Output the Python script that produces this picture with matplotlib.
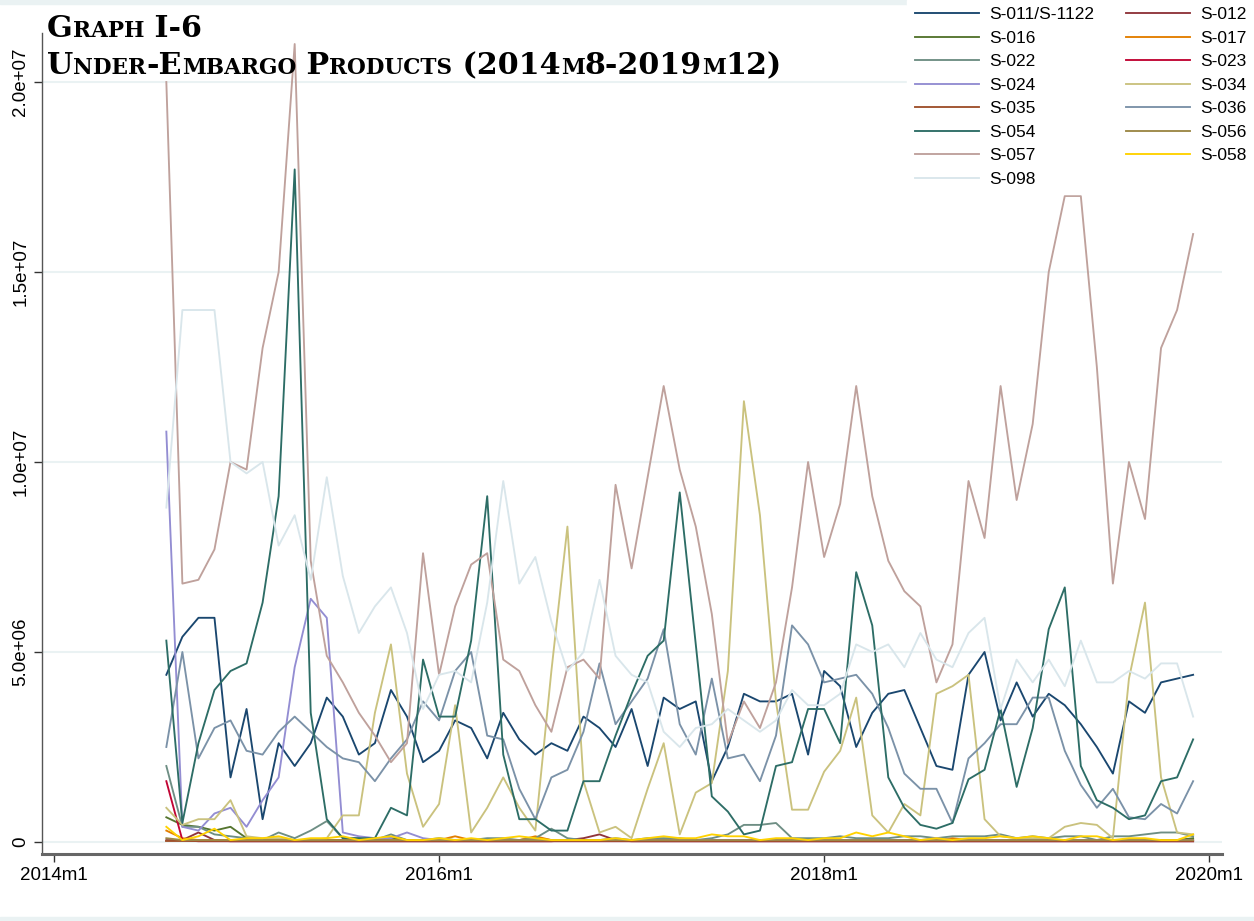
import numpy as np
import matplotlib
matplotlib.use("Agg")
import matplotlib.pyplot as plt
from matplotlib.patches import Rectangle

plt.rcParams['font.family'] = ['Liberation Sans', 'DejaVu Sans']

# monthly data 2014m8 .. 2019m12, values in millions
start_month = 7          # months after 2014m1
n_months = 65

s011 = [4.4, 5.4, 5.9, 5.9, 1.7, 3.5, 0.6, 2.6, 2.0, 2.6, 3.8, 3.3, 2.3, 2.6, 4.0, 3.3, 2.1, 2.4, 3.2, 3.0,
        2.2, 3.4, 2.7, 2.3, 2.6, 2.4, 3.3, 3.0, 2.5, 3.5, 2.0, 3.8, 3.5, 3.7, 1.6, 2.5, 3.9, 3.7, 3.7, 3.9,
        2.3, 4.5, 4.1, 2.5, 3.4, 3.9, 4.0, 3.0, 2.0, 1.9, 4.4, 5.0, 3.2, 4.2, 3.3, 3.9, 3.6, 3.1, 2.5, 1.8,
        3.7, 3.4, 4.2, 4.3, 4.4]
s012 = [0.05, 0.05, 0.25, 0.05, 0.02, 0.02, 0.02, 0.02, 0.02, 0.02, 0.02, 0.02, 0.02, 0.02, 0.02, 0.02, 0.02, 0.02, 0.02, 0.02,
        0.02, 0.02, 0.02, 0.02, 0.02, 0.05, 0.1, 0.2, 0.05, 0.02, 0.02, 0.02, 0.02, 0.02, 0.02, 0.02, 0.02, 0.02, 0.02, 0.02,
        0.02, 0.02, 0.02, 0.02, 0.02, 0.02, 0.02, 0.02, 0.02, 0.02, 0.02, 0.02, 0.02, 0.02, 0.02, 0.02, 0.02, 0.02, 0.02, 0.02,
        0.02, 0.02, 0.02, 0.02, 0.02]
s016 = [0.65, 0.45, 0.4, 0.3, 0.4, 0.1, 0.05, 0.05, 0.05, 0.05, 0.05, 0.05, 0.05, 0.05, 0.1, 0.05, 0.05, 0.05, 0.05, 0.05,
        0.05, 0.05, 0.05, 0.1, 0.05, 0.05, 0.05, 0.05, 0.05, 0.05, 0.05, 0.05, 0.05, 0.05, 0.05, 0.05, 0.05, 0.05, 0.05, 0.05,
        0.05, 0.05, 0.05, 0.05, 0.05, 0.05, 0.05, 0.05, 0.05, 0.05, 0.05, 0.05, 0.05, 0.05, 0.05, 0.05, 0.05, 0.05, 0.05, 0.05,
        0.05, 0.05, 0.05, 0.05, 0.1]
s017 = [0.3, 0.1, 0.05, 0.05, 0.05, 0.05, 0.05, 0.05, 0.05, 0.05, 0.05, 0.05, 0.05, 0.05, 0.05, 0.05, 0.05, 0.05, 0.15, 0.05,
        0.05, 0.05, 0.05, 0.15, 0.05, 0.05, 0.05, 0.05, 0.05, 0.05, 0.05, 0.05, 0.05, 0.05, 0.05, 0.05, 0.05, 0.05, 0.05, 0.05,
        0.05, 0.05, 0.05, 0.05, 0.05, 0.05, 0.05, 0.05, 0.05, 0.1, 0.05, 0.05, 0.05, 0.05, 0.05, 0.05, 0.05, 0.05, 0.05, 0.05,
        0.05, 0.05, 0.05, 0.05, 0.05]
s022 = [2.0, 0.4, 0.4, 0.2, 0.15, 0.1, 0.05, 0.25, 0.1, 0.3, 0.55, 0.1, 0.1, 0.05, 0.2, 0.05, 0.05, 0.1, 0.05, 0.05,
        0.1, 0.1, 0.05, 0.1, 0.35, 0.1, 0.05, 0.05, 0.1, 0.05, 0.1, 0.1, 0.1, 0.05, 0.1, 0.2, 0.45, 0.45, 0.5, 0.1,
        0.1, 0.1, 0.15, 0.1, 0.1, 0.1, 0.15, 0.15, 0.1, 0.15, 0.15, 0.15, 0.2, 0.1, 0.15, 0.1, 0.15, 0.15, 0.05, 0.15,
        0.15, 0.2, 0.25, 0.25, 0.15]
s023 = [1.6, 0.05, 0.02, 0.02, 0.02, 0.02, 0.02, 0.02, 0.02, 0.02, 0.02, 0.02, 0.02, 0.02, 0.02, 0.02, 0.02, 0.02, 0.02, 0.02,
        0.02, 0.02, 0.02, 0.02, 0.02, 0.02, 0.02, 0.02, 0.02, 0.02, 0.02, 0.02, 0.02, 0.02, 0.02, 0.02, 0.02, 0.02, 0.02, 0.02,
        0.02, 0.02, 0.02, 0.02, 0.02, 0.02, 0.02, 0.02, 0.02, 0.02, 0.02, 0.02, 0.02, 0.02, 0.02, 0.02, 0.02, 0.02, 0.02, 0.02,
        0.02, 0.02, 0.02, 0.02, 0.02]
s024 = [10.8, 0.4, 0.3, 0.75, 0.9, 0.4, 1.1, 1.7, 4.6, 6.4, 5.9, 0.25, 0.15, 0.1, 0.1, 0.25, 0.1, 0.05, 0.05, 0.05,
        0.05, 0.05, 0.05, 0.05, 0.05, 0.05, 0.05, 0.05, 0.05, 0.05, 0.05, 0.05, 0.05, 0.05, 0.05, 0.05, 0.05, 0.05, 0.05, 0.05,
        0.05, 0.05, 0.05, 0.05, 0.05, 0.05, 0.05, 0.05, 0.1, 0.05, 0.05, 0.05, 0.05, 0.05, 0.05, 0.05, 0.05, 0.05, 0.05, 0.05,
        0.05, 0.05, 0.05, 0.05, 0.05]
s034 = [0.9, 0.45, 0.6, 0.6, 1.1, 0.15, 0.1, 0.1, 0.05, 0.05, 0.1, 0.7, 0.7, 3.4, 5.2, 1.8, 0.4, 1.0, 3.6, 0.25,
        0.9, 1.7, 0.9, 0.3, 4.5, 8.3, 1.6, 0.25, 0.4, 0.1, 1.4, 2.6, 0.2, 1.3, 1.55, 4.5, 11.6, 8.6, 3.7, 0.85,
        0.85, 1.85, 2.4, 3.8, 0.7, 0.25, 1.0, 0.7, 3.9, 4.1, 4.4, 0.6, 0.15, 0.1, 0.1, 0.1, 0.4, 0.5, 0.45, 0.1,
        4.3, 6.3, 1.7, 0.25, 0.2]
s035 = [0.03, 0.03, 0.03, 0.03, 0.03, 0.03, 0.03, 0.03, 0.03, 0.03, 0.03, 0.03, 0.03, 0.03, 0.03, 0.03, 0.03, 0.03, 0.03, 0.03,
        0.03, 0.03, 0.03, 0.03, 0.03, 0.03, 0.03, 0.03, 0.03, 0.03, 0.03, 0.03, 0.03, 0.03, 0.03, 0.03, 0.03, 0.03, 0.03, 0.03,
        0.03, 0.03, 0.03, 0.03, 0.03, 0.03, 0.03, 0.03, 0.03, 0.03, 0.03, 0.03, 0.03, 0.03, 0.03, 0.03, 0.03, 0.03, 0.03, 0.03,
        0.03, 0.03, 0.03, 0.03, 0.03]
s036 = [2.5, 5.0, 2.2, 3.0, 3.2, 2.4, 2.3, 2.9, 3.3, 2.9, 2.5, 2.2, 2.1, 1.6, 2.2, 2.7, 3.7, 3.2, 4.5, 5.0,
        2.8, 2.7, 1.4, 0.6, 1.7, 1.9, 2.9, 4.7, 3.1, 3.7, 4.3, 5.6, 3.1, 2.3, 4.3, 2.2, 2.3, 1.6, 2.8, 5.7,
        5.2, 4.2, 4.3, 4.4, 3.9, 3.0, 1.8, 1.4, 1.4, 0.5, 2.2, 2.6, 3.1, 3.1, 3.8, 3.8, 2.4, 1.5, 0.9, 1.4,
        0.65, 0.6, 1.0, 0.75, 1.6]
s054 = [5.3, 0.5, 2.6, 4.0, 4.5, 4.7, 6.3, 9.1, 17.7, 3.4, 0.6, 0.1, 0.1, 0.1, 0.9, 0.7, 4.8, 3.3, 3.3, 5.3,
        9.1, 2.3, 0.6, 0.6, 0.3, 0.3, 1.6, 1.6, 2.8, 3.9, 4.9, 5.3, 9.2, 5.2, 1.2, 0.8, 0.2, 0.3, 2.0, 2.1,
        3.5, 3.5, 2.6, 7.1, 5.7, 1.7, 0.9, 0.45, 0.35, 0.5, 1.65, 1.9, 3.5, 1.45, 3.0, 5.6, 6.7, 2.0, 1.1, 0.9,
        0.6, 0.7, 1.6, 1.7, 2.7]
s056 = [0.1, 0.05, 0.05, 0.05, 0.05, 0.05, 0.05, 0.05, 0.05, 0.05, 0.05, 0.05, 0.05, 0.05, 0.05, 0.05, 0.05, 0.05, 0.05, 0.05,
        0.05, 0.05, 0.05, 0.05, 0.05, 0.05, 0.05, 0.05, 0.05, 0.05, 0.05, 0.05, 0.05, 0.05, 0.05, 0.05, 0.05, 0.05, 0.05, 0.05,
        0.05, 0.05, 0.05, 0.05, 0.05, 0.05, 0.05, 0.05, 0.05, 0.05, 0.05, 0.05, 0.05, 0.05, 0.05, 0.05, 0.05, 0.05, 0.05, 0.05,
        0.05, 0.05, 0.05, 0.05, 0.05]
s057 = [20.0, 6.8, 6.9, 7.7, 10.0, 9.8, 13.0, 15.0, 21.0, 7.4, 4.9, 4.2, 3.4, 2.8, 2.1, 2.6, 7.6, 4.4, 6.2, 7.3,
        7.6, 4.8, 4.5, 3.6, 2.9, 4.6, 4.8, 4.3, 9.4, 7.2, 9.6, 12.0, 9.8, 8.3, 6.0, 2.6, 3.7, 3.0, 4.2, 6.7,
        10.0, 7.5, 8.9, 12.0, 9.1, 7.4, 6.6, 6.2, 4.2, 5.2, 9.5, 8.0, 12.0, 9.0, 11.0, 15.0, 17.0, 17.0, 12.5, 6.8,
        10.0, 8.5, 13.0, 14.0, 16.0]
s058 = [0.4, 0.05, 0.15, 0.35, 0.05, 0.1, 0.1, 0.15, 0.05, 0.1, 0.1, 0.15, 0.05, 0.1, 0.15, 0.05, 0.05, 0.1, 0.05, 0.1,
        0.05, 0.1, 0.15, 0.1, 0.05, 0.05, 0.05, 0.05, 0.1, 0.05, 0.1, 0.15, 0.1, 0.1, 0.2, 0.15, 0.15, 0.05, 0.1, 0.1,
        0.05, 0.1, 0.1, 0.25, 0.15, 0.25, 0.15, 0.05, 0.1, 0.05, 0.1, 0.1, 0.15, 0.1, 0.15, 0.1, 0.05, 0.15, 0.15, 0.05,
        0.1, 0.1, 0.05, 0.05, 0.2]
s098 = [8.8, 14.0, 14.0, 14.0, 10.0, 9.7, 10.0, 7.8, 8.6, 6.9, 9.6, 7.0, 5.5, 6.2, 6.7, 5.5, 3.5, 4.4, 4.5, 4.2,
        6.3, 9.5, 6.8, 7.5, 5.8, 4.5, 5.0, 6.9, 4.9, 4.4, 4.2, 2.9, 2.5, 3.0, 3.1, 3.5, 3.2, 2.9, 3.2, 4.0,
        3.6, 3.6, 3.9, 5.2, 5.0, 5.2, 4.6, 5.5, 4.8, 4.6, 5.5, 5.9, 3.5, 4.8, 4.2, 4.8, 4.1, 5.3, 4.2, 4.2,
        4.5, 4.3, 4.7, 4.7, 3.3]

labels = ['S-011/S-1122', 'S-012', 'S-016', 'S-017', 'S-022', 'S-023', 'S-024', 'S-034',
          'S-035', 'S-036', 'S-054', 'S-056', 'S-057', 'S-058', 'S-098']
series = [s011, s012, s016, s017, s022, s023, s024, s034, s035, s036, s054, s056, s057, s058, s098]
# stata s2color palette
colors = ['#1a476f', '#90353b', '#55752f', '#e37e00', '#6e8e84', '#c10534', '#938dd2', '#cac27e',
          '#a0522d', '#7b92a8', '#2d6d66', '#9c8847', '#bfa19c', '#ffd200', '#d9e6eb']

xticks = [0, 24, 48, 72]
xticklabels = ['2014m1', '2016m1', '2018m1', '2020m1']
yticks = [0, 5e6, 1e7, 1.5e7, 2e7]
yticklabels = ['0', '5.0e+06', '1.0e+07', '1.5e+07', '2.0e+07']

W, H = 1254, 921
fig = plt.figure(figsize=(W / 100, H / 100), dpi=100)
fig.patches.append(Rectangle((0, 1 - 4 / H), 1, 4 / H, transform=fig.transFigure, color='#eaf2f3', zorder=0))
fig.patches.append(Rectangle((0, 0), 1, 4 / H, transform=fig.transFigure, color='#eaf2f3', zorder=0))

ax = fig.add_axes([42 / W, 1 - 854 / H, (1222 - 42) / W, (854 - 33) / H])
x = np.arange(start_month, start_month + n_months)

handles = []
for vals, lab, col in zip(series, labels, colors):
    h, = ax.plot(x, np.array(vals) * 1e6, color=col, lw=1.35, label=lab)
    handles.append(h)

ax.set_xlim(-0.75, 72.8)
ax.set_ylim(-0.316e6, 21.29e6)
ax.set_xticks(xticks)
ax.set_xticklabels(xticklabels, fontsize=13.5)
ax.set_yticks(yticks)
ax.set_yticklabels(yticklabels, fontsize=13.5, rotation=90, va='center')
ax.tick_params(axis='both', length=6, width=1, color='#333333', pad=3)
ax.yaxis.grid(True, color='#eaf2f3', lw=1.5)
ax.set_axisbelow(True)
for s in ['top', 'right']:
    ax.spines[s].set_visible(False)
ax.spines['left'].set_color('#555555')
ax.spines['left'].set_linewidth(1.0)
ax.spines['bottom'].set_color('#666666')
ax.spines['bottom'].set_linewidth(2.2)

# legend filled row by row like stata
order = list(range(0, 15, 2)) + list(range(1, 15, 2))
leg = fig.legend([handles[i] for i in order], [labels[i] for i in order], loc='upper right',
                 bbox_to_anchor=(1.0, 1.0), ncol=2, frameon=True, fancybox=False, edgecolor='white',
                 facecolor='white', framealpha=1, fontsize=12.5, handlelength=3.7, handletextpad=0.6,
                 columnspacing=1.8, labelspacing=0.48, borderpad=0.42, borderaxespad=0)

# small caps title
renderer = fig.canvas.get_renderer()


def small_caps(text, x0, y0, size, ratio=0.72):
    runs = []
    for ch in text:
        low = ch.islower()
        if runs and runs[-1][1] == low:
            runs[-1][0] += ch
        else:
            runs.append([ch, low])
    xp = x0
    for s, low in runs:
        t = fig.text(xp / W, 1 - y0 / H, s.upper() if low else s, fontsize=size * ratio if low else size,
                     family='DejaVu Serif', weight='bold', va='baseline', ha='left')
        xp += t.get_window_extent(renderer).width


small_caps('Graph I-6', 47, 37, 21.7)
small_caps('Under-Embargo Products (2014m8-2019m12)', 47, 74, 21.7)

fig.savefig('out.png', dpi=100)
